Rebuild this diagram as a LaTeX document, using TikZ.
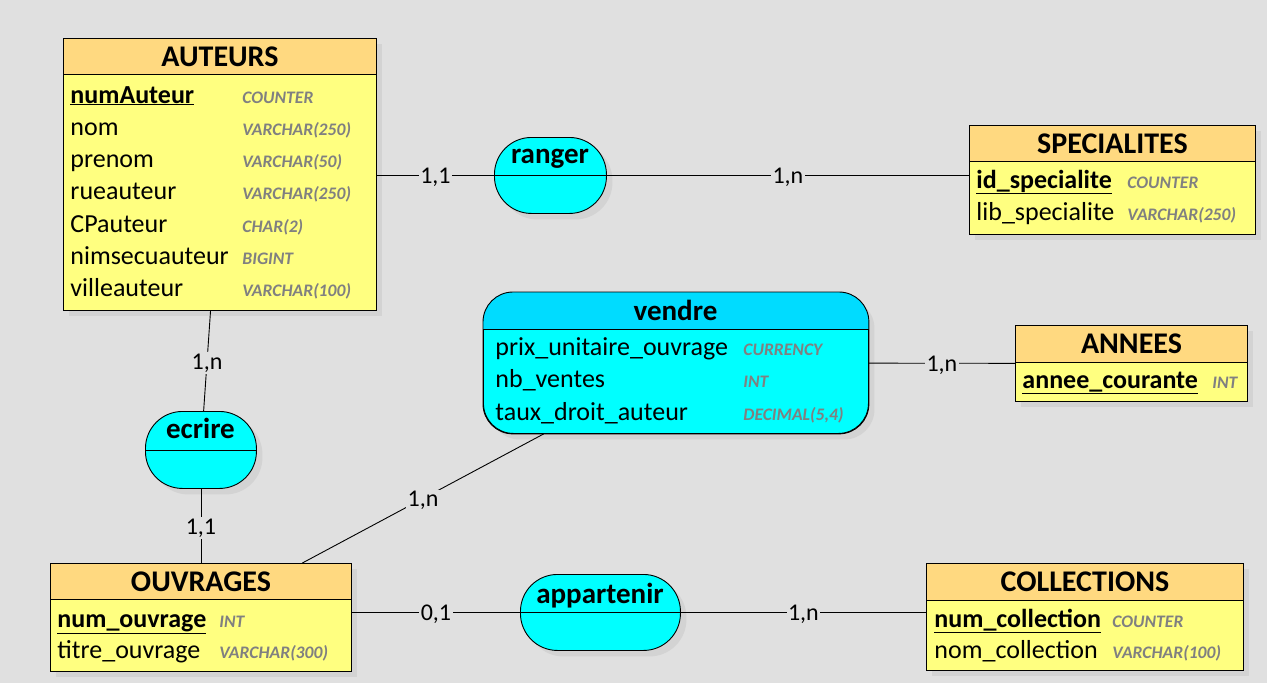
\documentclass[tikz,border=0pt]{standalone}
\usepackage{fontspec}
\setmainfont{Carlito}
\usetikzlibrary{shadows}
\definecolor{bgcol}{HTML}{E0E0E0}
\definecolor{headcol}{HTML}{FFD980}
\definecolor{bodycol}{HTML}{FFFF80}
\definecolor{relcol}{HTML}{00FFFF}
\definecolor{relhead}{HTML}{00DCFF}
\definecolor{typecol}{HTML}{808080}
\tikzset{
  entity node/.style={rectangle,draw,fill=bodycol,anchor=north west,inner sep=0pt,
    drop shadow={shadow xshift=6pt,shadow yshift=-6pt,fill=black!22}},
  head node/.style={rectangle,draw,fill=headcol,anchor=north west,inner sep=0pt,
    font=\fontsize{30}{36}\selectfont\bfseries},
  rel node/.style={rectangle,draw,fill=relcol,rounded corners=37pt,anchor=north west,inner sep=0pt,
    drop shadow={shadow xshift=6pt,shadow yshift=-6pt,fill=black!22}},
  attr node/.style={anchor=base west,inner sep=0pt,font=\fontsize{26}{31}\selectfont},
  type node/.style={anchor=base west,inner sep=0pt,text=typecol,font=\fontsize{17.6}{21}\selectfont\bfseries\itshape},
  name node/.style={anchor=base,inner sep=0pt,font=\fontsize{29}{35}\selectfont\bfseries},
  card node/.style={midway,yshift=-2pt,fill=bgcol,inner sep=1.5pt,font=\fontsize{24}{29}\selectfont},
}
\newcommand{\keyattr}[1]{\underline{\textbf{#1}}}

\begin{document}
\begin{tikzpicture}[x=1pt,y=-1pt,line width=0.9pt]
  \useasboundingbox (0,0) rectangle (1267,683);
  \fill[bgcol] (0,0) rectangle (1267,683);
  %% Entities
  % AUTEURS
  \node[entity node,minimum width=313pt,minimum height=272pt] (auteurs) at (63,38) {};
  \node[head node,minimum width=313pt,minimum height=36pt] (auteurs head) at (auteurs.north west) {AUTEURS};
  \node[attr node] (auteurs key) at (70,103) {\keyattr{numAuteur}};
  \node[type node] (auteurs key type) at (242,103) {COUNTER};
  \foreach \attr/\type [count=\i] in {nom/VARCHAR(250),prenom/VARCHAR(50),rueauteur/VARCHAR(250),
      CPauteur/CHAR(2),nimsecuauteur/BIGINT,villeauteur/VARCHAR(100)}
  {
    \node[attr node] (auteurs attr \i) at (70,103+32.33*\i) {\attr};
    \node[type node] (auteurs type \i) at (242,103+32.33*\i) {\type};
  }
  % SPECIALITES
  \node[entity node,minimum width=286pt,minimum height=109pt] (specialites) at (969,125) {};
  \node[head node,minimum width=286pt,minimum height=36pt] (specialites head) at (specialites.north west) {SPECIALITES};
  \node[attr node] (specialites key) at (976,188) {\keyattr{id\_specialite}};
  \node[type node] (specialites key type) at (1127,188) {COUNTER};
  \node[attr node] (specialites attr) at (976,220) {lib\_specialite};
  \node[type node] (specialites type) at (1127,220) {VARCHAR(250)};
  % ANNEES
  \node[entity node,minimum width=232pt,minimum height=76pt] (annees) at (1015,325) {};
  \node[head node,minimum width=232pt,minimum height=37pt] (annees head) at (annees.north west) {ANNEES};
  \node[attr node] (annees key) at (1022,388) {\keyattr{annee\_courante}};
  \node[type node] (annees key type) at (1212,388) {INT};
  % OUVRAGES
  \node[entity node,minimum width=301pt,minimum height=108pt] (ouvrages) at (50,563) {};
  \node[head node,minimum width=301pt,minimum height=36pt] (ouvrages head) at (ouvrages.north west) {OUVRAGES};
  \node[attr node] (ouvrages key) at (57,627) {\keyattr{num\_ouvrage}};
  \node[type node] (ouvrages key type) at (219,627) {INT};
  \node[attr node] (ouvrages attr) at (57,658) {titre\_ouvrage};
  \node[type node] (ouvrages type) at (219,658) {VARCHAR(300)};
  % COLLECTIONS
  \node[entity node,minimum width=317pt,minimum height=107pt] (collections) at (926,563) {};
  \node[head node,minimum width=317pt,minimum height=37pt] (collections head) at (collections.north west) {COLLECTIONS};
  \node[attr node] (collections key) at (934,627) {\keyattr{num\_collection}};
  \node[type node] (collections key type) at (1112,627) {COUNTER};
  \node[attr node] (collections attr) at (934,658) {nom\_collection};
  \node[type node] (collections type) at (1112,658) {VARCHAR(100)};
  %% Associations
  % vendre
  \node[rel node,rounded corners=30pt,minimum width=385pt,minimum height=141pt] (vendre) at (483,292) {};
  \begin{scope}
    \clip[rounded corners=30pt] (vendre.north west) rectangle (vendre.south east);
    \fill[relhead] (vendre.north west) rectangle ([yshift=-37pt]vendre.north east);
  \end{scope}
  \draw[rounded corners=30pt] (vendre.north west) rectangle (vendre.south east);
  \draw ([yshift=-37pt]vendre.north west) -- ([yshift=-37pt]vendre.north east);
  \node[name node] (vendre name) at (675.5,320) {vendre};
  \foreach \attr/\type [count=\i] in {prix\_unitaire\_ouvrage/CURRENCY,nb\_ventes/INT,taux\_droit\_auteur/{DECIMAL(5,4)}}
  {
    \node[attr node] (vendre attr \i) at (495,322.5+32.5*\i) {\attr};
    \node[type node] (vendre type \i) at (743,322.5+32.5*\i) {\type};
  }
  % ranger
  \node[rel node,minimum width=112pt,minimum height=76pt] (ranger) at (494,137) {};
  \draw (ranger.west) -- (ranger.east);
  \node[name node] (ranger name) at (550,163) {ranger};
  % ecrire
  \node[rel node,minimum width=111pt,minimum height=77pt] (ecrire) at (145,411) {};
  \draw (ecrire.west) -- (ecrire.east);
  \node[name node] (ecrire name) at (200.5,438) {ecrire};
  % appartenir
  \node[rel node,minimum width=160pt,minimum height=76pt] (appartenir) at (520,574) {};
  \draw (appartenir.west) -- (appartenir.east);
  \node[name node] (appartenir name) at (600,603) {appartenir};
  %% Paths
  \path[draw]
    (auteurs.east |- ranger) edge node[card node] {1,1} (ranger)
    (ranger) edge node[card node] {1,n} (specialites.west |- ranger)
    (auteurs) edge node[card node] {1,n} (ecrire)
    (ecrire) edge node[card node] {1,1} (ouvrages)
    (vendre) edge node[card node] {1,n} (ouvrages)
    (vendre) edge node[card node] {1,n} (annees)
    (ouvrages.east |- appartenir) edge node[card node] {0,1} (appartenir)
    (appartenir) edge node[card node] {1,n} (collections.west |- appartenir);
\end{tikzpicture}
\end{document}
